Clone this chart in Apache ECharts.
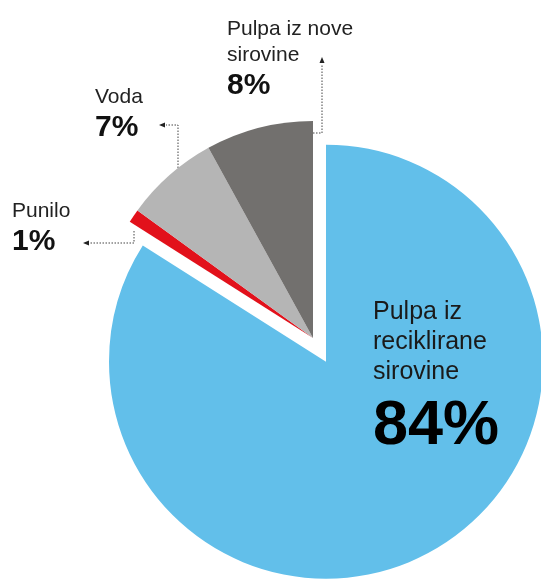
<!DOCTYPE html>
<html>
<head>
<meta charset="utf-8">
<script src="https://cdn.jsdelivr.net/npm/echarts@6/dist/echarts.min.js"></script>
<style>html,body{margin:0;padding:0;background:#fff}#c{width:541px;height:581px}</style>
</head>
<body>
<div id="c"></div>
<script>
var categories = ['Pulpa iz\nreciklirane\nsirovine', 'Punilo', 'Voda', 'Pulpa iz nove\nsirovine'];
var values = [84, 1, 7, 8];
var colors = ['#62bfea', '#e2111b', '#b5b5b5', '#72706e'];

// label anchor (top-left) positions
var labelPos = [[373, 297], [12, 198], [95, 84], [227, 16]];

var CX = 313, CY = 338, R = 217, EXPLODE = 27;
var total = values.reduce(function (a, b) { return a + b; }, 0);
var midAng = values[0] / total / 2 * 2 * Math.PI; // clockwise from top
var bx = CX + EXPLODE * Math.sin(midAng), by = CY - EXPLODE * Math.cos(midAng);

var chart = echarts.init(document.getElementById('c'), null, {renderer: 'canvas'});

function dotted(points) {
  return {type: 'polyline', shape: {points: points}, silent: true,
    style: {stroke: '#444', lineWidth: 1, lineDash: [1.5, 1.5], fill: null}};
}
function arrow(tip, dir) {
  var x = tip[0], y = tip[1], pts;
  if (dir === 'up') pts = [[x, y], [x - 2.5, y + 6], [x + 2.5, y + 6]];
  else pts = [[x, y], [x + 6, y - 2.5], [x + 6, y + 2.5]];
  return {type: 'polygon', shape: {points: pts}, silent: true, style: {fill: '#222'}};
}

var rich = {
  n: {fontSize: 21, lineHeight: 26, color: '#222', fontFamily: 'Liberation Sans'},
  v: {fontSize: 30, lineHeight: 36, fontWeight: 'bold', color: '#111', fontFamily: 'Liberation Sans'},
  N: {fontSize: 25, lineHeight: 30, color: '#1a1a1a', fontFamily: 'Liberation Sans'},
  V: {fontSize: 63, lineHeight: 80, fontWeight: 'bold', color: '#000', fontFamily: 'Liberation Sans'}
};
function fmt(p) {
  var big = p.dataIndex === 0;
  var lines = p.name.split('\n').map(function (s) { return (big ? '{N|' : '{n|') + s + '}'; });
  return lines.join('\n') + '\n' + (big ? '{V|' : '{v|') + p.value + '%}';
}
function layout(p) {
  var pos = labelPos[p.dataIndex];
  return {x: pos[0], y: pos[1], align: 'left', verticalAlign: 'top'};
}

function makeSeries(center, showIdx) {
  return {
    type: 'pie',
    center: center,
    radius: [0, R],
    startAngle: 90,
    clockwise: true,
    silent: true,
    avoidLabelOverlap: false,
    emphasis: {disabled: true},
    labelLine: {show: false},
    data: categories.map(function (n, i) {
      var on = showIdx(i);
      return {
        name: n, value: values[i],
        itemStyle: {color: on ? colors[i] : 'rgba(0,0,0,0)'},
        label: {show: on}
      };
    }),
    label: {show: true, position: 'outside', formatter: fmt, rich: rich},
    labelLayout: layout
  };
}

chart.setOption({
  animation: false,
  backgroundColor: '#fff',
  textStyle: {fontFamily: 'Liberation Sans, Arial, sans-serif'},
  series: [
    makeSeries([bx, by], function (i) { return i === 0; }),
    makeSeries([CX, CY], function (i) { return i !== 0; })
  ],
  graphic: [
    dotted([[295, 133], [322, 133], [322, 64]]), arrow([322, 57], 'up'),
    dotted([[178, 183], [178, 125], [166, 125]]), arrow([159, 125], 'left'),
    dotted([[134, 231], [134, 243], [90, 243]]), arrow([83, 243], 'left')
  ]
});
</script>
</body>
</html>
